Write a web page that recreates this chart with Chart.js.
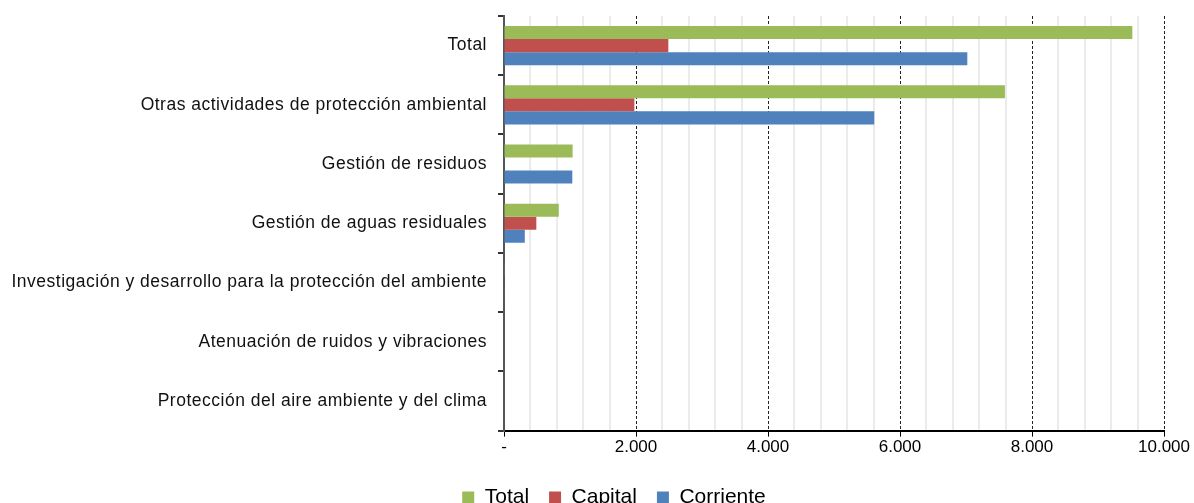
<!DOCTYPE html>
<html>
<head>
<meta charset="utf-8">
<script src="https://cdn.jsdelivr.net/npm/chart.js@4"></script>
<style>
  html, body { margin: 0; padding: 0; background: #fff; }
  #wrap { width: 1194px; height: 503px; }
</style>
</head>
<body>
<div id="wrap"><canvas id="gastoChart"></canvas></div>
<script>
// categorías (de arriba a abajo)
const categorias = [
    "Total",
    "Otras actividades de protección ambiental",
    "Gestión de residuos",
    "Gestión de aguas residuales",
    "Investigación y desarrollo para la protección del ambiente",
    "Atenuación de ruidos y vibraciones",
    "Protección del aire ambiente y del clima"
];

const valoresTotal = [9520, 7590, 1040, 830, 10, 0, 0];
const valoresCapital = [2490, 1975, 0, 490, 0, 0, 0];
const valoresCorriente = [7020, 5610, 1035, 315, 10, 0, 0];

const ejeMin = 0;
const ejeMax = 10000;
const pasoMayor = 2000;
const pasoMenor = 400;

function formatoMiles(v) {
    if (v === 0) return "-";
    return String(v).replace(/\B(?=(\d{3})+(?!\d))/g, ".");
}

// etiquetas del eje vertical: algo de espacio entre letras y sin recorte
const espaciadoEtiquetas = {
    id: "espaciadoEtiquetas",
    beforeDraw(chart) {
        const ejeY = chart.scales.y;
        if (ejeY._parcheado) return;
        const original = ejeY.drawLabels.bind(ejeY);
        ejeY._computeLabelArea = () => undefined;
        ejeY.drawLabels = function (area) {
            const c = chart.ctx;
            c.save();
            c.letterSpacing = "0.5px";
            original(area);
            c.restore();
        };
        ejeY._parcheado = true;
    }
};

Chart.defaults.font.family = "'Liberation Sans', Arial, sans-serif";
Chart.defaults.color = "#000";

const margenIzq = 64;

const ctx = document.getElementById("gastoChart");

new Chart(ctx, {
    type: "bar",
    data: {
        labels: categorias,
        datasets: [
            { label: "Total", data: valoresTotal, backgroundColor: "#9BBB59" },
            { label: "Capital", data: valoresCapital, backgroundColor: "#C0504D" },
            { label: "Corriente", data: valoresCorriente, backgroundColor: "#4F81BD" }
        ]
    },
    plugins: [espaciadoEtiquetas],
    options: {
        indexAxis: "y",
        responsive: true,
        maintainAspectRatio: false,
        animation: false,
        layout: { padding: { top: 16, right: 30, left: margenIzq, bottom: -15 } },
        datasets: {
            bar: { categoryPercentage: 0.66, barPercentage: 1.0 }
        },
        plugins: {
            legend: {
                position: "bottom",
                labels: {
                    font: { size: 21 },
                    boxWidth: 12,
                    boxHeight: 12,
                    padding: 20
                }
            },
            tooltip: { enabled: false }
        },
        scales: {
            x: {
                min: ejeMin,
                max: ejeMax,
                ticks: {
                    stepSize: pasoMayor,
                    font: { size: 17 },
                    padding: 1,
                    callback: (v) => formatoMiles(v)
                },
                grid: {
                    color: (c) => (c.tick && c.tick.value === 0 ? "rgba(0,0,0,0)" : "#222"),
                    tickColor: "#000",
                    tickLength: 6,
                    lineWidth: 1
                },
                border: { display: true, color: "#000", width: 2, dash: [3, 2] },
                afterFit: (scale) => {
                    scale.height += 8;
                    scale.paddingLeft = 0;
                    scale.paddingRight = 0;
                }
            },
            xMenor: {
                type: "linear",
                position: "bottom",
                min: ejeMin,
                max: ejeMax,
                ticks: { display: false, stepSize: pasoMenor },
                grid: {
                    color: (c) => (c.tick && c.tick.value % pasoMayor === 0 ? "rgba(0,0,0,0)" : "#ebebeb"),
                    lineWidth: 2,
                    drawTicks: false
                },
                border: { display: false }
            },
            y: {
                ticks: { font: { size: 17.5 }, padding: 11, color: "#111" },
                grid: {
                    offset: true,
                    drawOnChartArea: false,
                    tickLength: 6,
                    tickColor: "#333",
                    lineWidth: 2
                },
                border: { display: true, color: "#555", width: 2 },
                afterFit: (scale) => {
                    scale.width = 504 - margenIzq;
                    scale.paddingTop = 0;
                    scale.paddingBottom = 0;
                }
            }
        }
    }
});
</script>
</body>
</html>
